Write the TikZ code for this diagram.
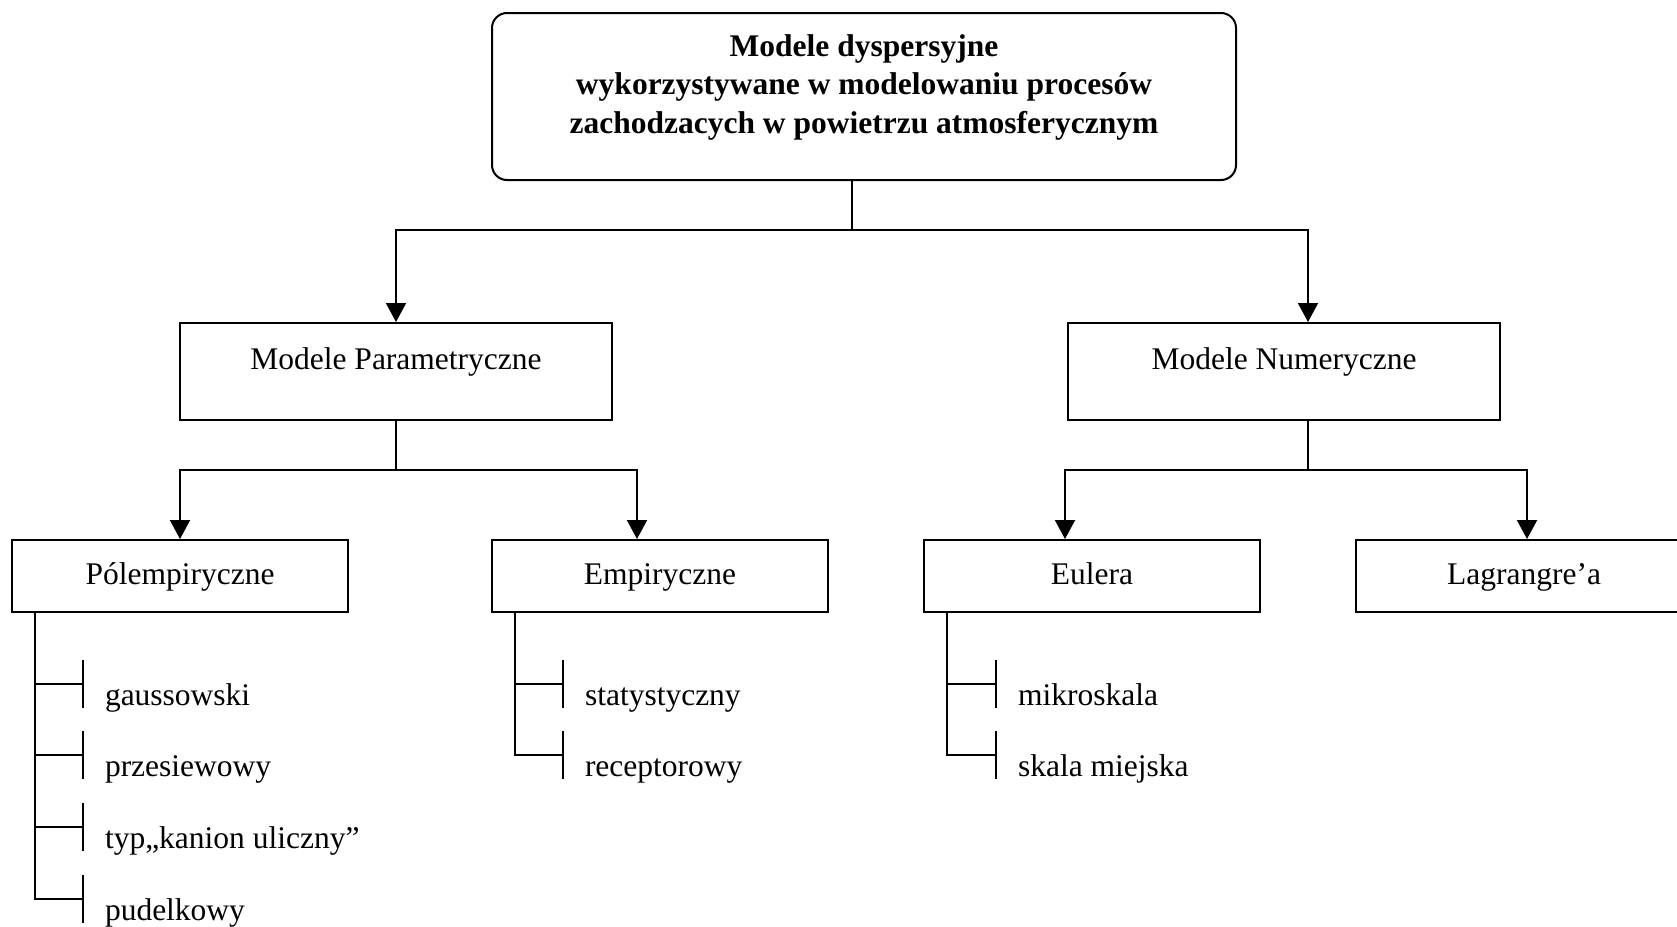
\documentclass[tikz,border=0pt]{standalone}
\usepackage{fontspec}
\setmainfont{Liberation Serif}
\usetikzlibrary{arrows.meta,calc}
\begin{document}
\begin{tikzpicture}[x=1pt,y=-1pt,line width=2pt,
  every node/.style={font=\fontsize{31.5}{38.7}\selectfont,inner sep=0pt},
  box/.style={draw,rectangle,anchor=north,minimum width=#1},
  midbox/.style={box=432,text height=46pt,text depth=51pt},
  leafbox/.style={box=336,text height=44pt,text depth=28pt},
  item/.style={anchor=base west},
  arr/.style={-{Triangle[width=20pt,length=19pt]}}]
\clip (0,0) rectangle (1677,926);

% root
\node[box=744,rounded corners=15pt,text height=43pt,text depth=124pt,
      font=\bfseries\fontsize{31.5}{38.7}\selectfont] (top) at (864,12)
  {\begin{tabular}[t]{@{}c@{}}Modele dyspersyjne\\
   wykorzystywane w modelowaniu procesów\\
   zachodzacych w powietrzu atmosferycznym\end{tabular}};

% second level
\node[midbox] (par) at (396,322) {Modele Parametryczne};
\node[midbox] (num) at (1284,322) {Modele Numeryczne};

% third level
\node[leafbox] (pol) at (180,539) {Pólempiryczne};
\node[leafbox] (emp) at (660,539) {Empiryczne};
\node[leafbox] (eul) at (1092,539) {Eulera};
\node[leafbox] (lag) at (1524,539) {Lagrangre’a};

% tree connectors
\draw ($(top.south)+(-12,0)$) -- ++(0,49) coordinate (jt);
\draw[arr] (jt) -| (par.north);
\draw[arr] (jt) -| ($(num.north)+(24,0)$);

\draw (par.south) -- ++(0,49) coordinate (jp);
\draw[arr] (jp) -| (pol.north);
\draw[arr] (jp) -| ($(emp.north)+(-23,0)$);

\draw ($(num.south)+(24,0)$) -- ++(0,49) coordinate (jn);
\draw[arr] (jn) -| ($(eul.north)+(-27,0)$);
\draw[arr] (jn) -| ($(lag.north)+(3,0)$);

% list entries
\node[item] (g)  at (104,705) {gaussowski};
\node[item] (pz) at (104,776) {przesiewowy};
\node[item] (ku) at (104,848) {typ„kanion uliczny”};
\node[item] (pu) at (104,920) {pudelkowy};
\node[item] (st) at (584,705) {statystyczny};
\node[item] (re) at (584,776) {receptorowy};
\node[item] (mi) at (1017,705) {mikroskala};
\node[item] (sm) at (1017,776) {skala miejska};

% tick bars in front of each entry
\foreach \i in {g,pz,ku,pu,st,re,mi,sm}{
  \coordinate (\i-t) at ($(\i.base west)+(-21,-21)$);
  \draw ($(\i-t)+(0,-24)$) -- ($(\i-t)+(0,24)$);
}

% list trunks
\draw ($(pol.south west)+(24,0)$) coordinate (pt) |- (pu-t);
\foreach \i in {g,pz,ku} \draw (pt |- \i-t) -- (\i-t);

\draw ($(emp.south west)+(24,0)$) coordinate (et) |- (re-t);
\draw (et |- st-t) -- (st-t);

\draw ($(eul.south west)+(24,0)$) coordinate (ut) |- (sm-t);
\draw (ut |- mi-t) -- (mi-t);
\end{tikzpicture}
\end{document}
